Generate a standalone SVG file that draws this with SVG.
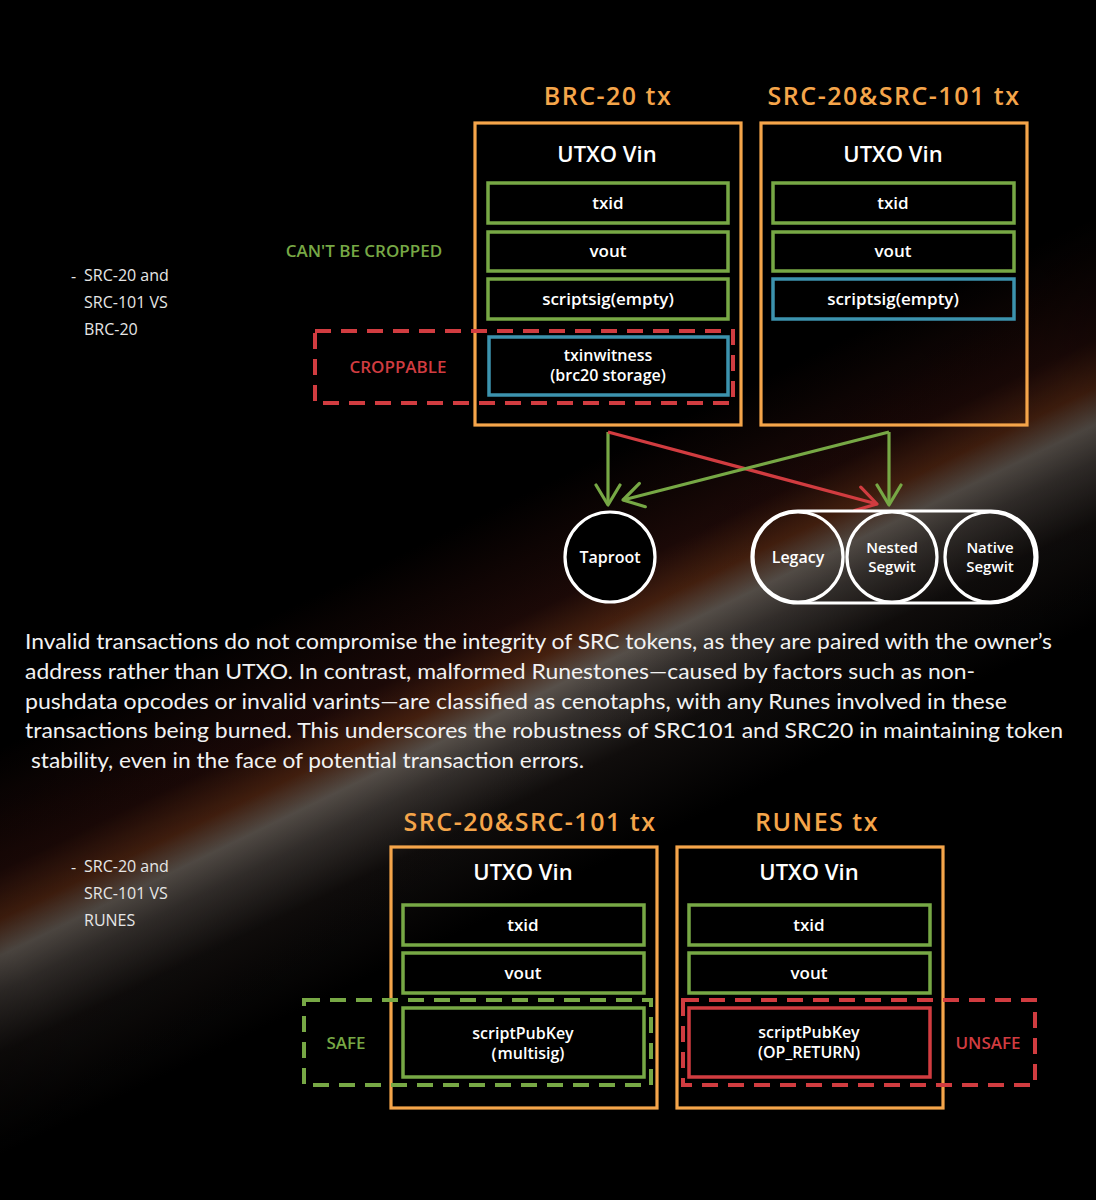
<svg xmlns="http://www.w3.org/2000/svg" width="1096" height="1200" viewBox="0 0 1096 1200">
<defs>
<linearGradient id="streak" gradientUnits="userSpaceOnUse" x1="470" y1="520" x2="630" y2="850">
<stop offset="0" stop-color="#000"/>
<stop offset="0.3" stop-color="#1c0907"/>
<stop offset="0.42" stop-color="#45200f"/>
<stop offset="0.51" stop-color="#57504a"/>
<stop offset="0.6" stop-color="#35302d"/>
<stop offset="0.75" stop-color="#100d0c"/>
<stop offset="1" stop-color="#000"/>
</linearGradient>
<radialGradient id="fade" gradientUnits="userSpaceOnUse" cx="548" cy="685" r="800">
<stop offset="0" stop-color="#000" stop-opacity="0"/>
<stop offset="0.75" stop-color="#000" stop-opacity="0.15"/>
<stop offset="1" stop-color="#000" stop-opacity="0.6"/>
</radialGradient>
<marker id="ag" viewBox="0 0 26 28" refX="23" refY="14" markerWidth="26" markerHeight="28" markerUnits="userSpaceOnUse" orient="auto">
<path d="M3,2 L23,14 L3,26" fill="none" stroke="#77a845" stroke-width="3.2" stroke-linecap="round" stroke-linejoin="round"/>
</marker>
<marker id="ar" viewBox="0 0 26 28" refX="23" refY="14" markerWidth="26" markerHeight="28" markerUnits="userSpaceOnUse" orient="auto">
<path d="M3,2 L23,14 L3,26" fill="none" stroke="#d13c40" stroke-width="3.2" stroke-linecap="round" stroke-linejoin="round"/>
</marker>
</defs>
<style>
.tx{fill:none;stroke:#f5a54a;stroke-width:3.2}
.g{fill:none;stroke:#77a845;stroke-width:3.5}
.b{fill:none;stroke:#3c93ae;stroke-width:3.5}
.r{fill:none;stroke:#d13c40;stroke-width:3.5}
.dr{fill:none;stroke:#d13c40;stroke-width:4;stroke-dasharray:16 10}
.dg{fill:none;stroke:#77a845;stroke-width:4;stroke-dasharray:16 10}
.ttl{font-family:"Open Sans",Lato,sans-serif;font-weight:600;font-size:25px;letter-spacing:1.5px;fill:#f5a54a;text-anchor:middle}
.h{font-family:"Open Sans",Lato,sans-serif;font-weight:600;font-size:22px;fill:#fff;text-anchor:middle}
.f{font-family:"Open Sans",Lato,sans-serif;font-weight:600;font-size:17px;fill:#fff;text-anchor:middle}
.f2{font-family:"Open Sans",Lato,sans-serif;font-weight:600;font-size:16px;fill:#fff;text-anchor:middle}
.c{font-family:"Open Sans",Lato,sans-serif;font-weight:600;font-size:16px;fill:#fff;text-anchor:middle}
.c2{font-family:"Open Sans",Lato,sans-serif;font-weight:600;font-size:15px;fill:#fff;text-anchor:middle}
.lab{font-family:"Open Sans",Lato,sans-serif;font-weight:600;font-size:17px;text-anchor:middle}
.side{font-family:"Open Sans","Noto Sans",sans-serif;font-size:16px;fill:#e6e6e6}
.p{font-family:Lato,"Noto Sans",sans-serif;font-size:21px;fill:#f2f2f2}
.circ{stroke:#fff;stroke-width:3.2}
.conn{fill:none;stroke-width:3.2}
</style>
<rect x="0" y="0" width="1096" height="1200" fill="url(#streak)"/>
<rect x="0" y="0" width="1096" height="1200" fill="url(#fade)"/>

<g id="side-top">
<text class="side" x="71" y="282">-</text>
<text class="side" x="84" y="281">SRC-20 and</text>
<text class="side" x="84" y="308">SRC-101 VS</text>
<text class="side" x="84" y="335">BRC-20</text>
</g>

<g id="brc20-tx">
<text class="ttl" x="608" y="105">BRC-20 tx</text>
<rect class="tx" x="475" y="123" width="266" height="302" fill="#000"/>
<text class="h" x="607" y="162">UTXO Vin</text>
<rect class="g" x="488" y="183" width="240" height="40" fill="#000"/>
<text class="f" x="608" y="209">txid</text>
<rect class="g" x="488" y="232" width="240" height="39" fill="#000"/>
<text class="f" x="608" y="257">vout</text>
<rect class="g" x="488" y="279" width="240" height="40" fill="#000"/>
<text class="f" x="608" y="305">scriptsig(empty)</text>
<rect class="b" x="489" y="337" width="239" height="58" fill="#000"/>
<text class="f2" x="608" y="361">txinwitness</text>
<text class="f2" x="608" y="381">(brc20 storage)</text>
</g>

<g id="cant-crop">
<text class="lab" x="364" y="257" fill="#77a845">CAN'T BE CROPPED</text>
</g>

<g id="croppable">
<rect class="dr" x="315" y="331" width="418" height="72"/>
<text class="lab" x="398" y="373" fill="#d13c40">CROPPABLE</text>
</g>

<g id="src-tx-top">
<text class="ttl" x="894" y="105">SRC-20&amp;SRC-101 tx</text>
<rect class="tx" x="761" y="123" width="266" height="302" fill="#000"/>
<text class="h" x="893" y="162">UTXO Vin</text>
<rect class="g" x="773" y="183" width="241" height="40" fill="#000"/>
<text class="f" x="893" y="209">txid</text>
<rect class="g" x="773" y="232" width="241" height="39" fill="#000"/>
<text class="f" x="893" y="257">vout</text>
<rect class="b" x="773" y="279" width="241" height="40" fill="#000"/>
<text class="f" x="893" y="305">scriptsig(empty)</text>
</g>

<g id="connectors">
<line class="conn" x1="608" y1="432" x2="608" y2="505" stroke="#77a845" marker-end="url(#ag)"/>
<line class="conn" x1="608" y1="432" x2="877" y2="504" stroke="#d13c40" marker-end="url(#ar)"/>
<line class="conn" x1="889" y1="432" x2="889" y2="505" stroke="#77a845" marker-end="url(#ag)"/>
<line class="conn" x1="889" y1="432" x2="623" y2="500" stroke="#77a845" marker-end="url(#ag)"/>
</g>

<g id="taproot">
<circle class="circ" cx="610" cy="557" r="45" fill="#000"/>
<text class="c" x="610" y="563">Taproot</text>
</g>

<g id="address-group">
<rect class="circ" x="752" y="511" width="285" height="92" rx="46" fill="none"/>
</g>
<g id="legacy">
<circle class="circ" cx="798" cy="557" r="45" fill="none"/>
<text class="c" x="798" y="563">Legacy</text>
</g>
<g id="nested-segwit">
<circle class="circ" cx="892" cy="557" r="45" fill="none"/>
<text class="c2" x="892" y="553">Nested</text>
<text class="c2" x="892" y="572">Segwit</text>
</g>
<g id="native-segwit">
<circle class="circ" cx="990" cy="557" r="45" fill="none"/>
<text class="c2" x="990" y="553">Native</text>
<text class="c2" x="990" y="572">Segwit</text>
</g>

<g id="paragraph">
<text class="p" x="25" y="649" textLength="1027" lengthAdjust="spacingAndGlyphs">Invalid transactions do not compromise the integrity of SRC tokens, as they are paired with the owner’s</text>
<text class="p" x="25" y="679" textLength="950" lengthAdjust="spacingAndGlyphs">address rather than UTXO. In contrast, malformed Runestones—caused by factors such as non-</text>
<text class="p" x="25" y="709" textLength="982" lengthAdjust="spacingAndGlyphs">pushdata opcodes or invalid varints—are classified as cenotaphs, with any Runes involved in these</text>
<text class="p" x="25" y="738" textLength="1038" lengthAdjust="spacingAndGlyphs">transactions being burned. This underscores the robustness of SRC101 and SRC20 in maintaining token</text>
<text class="p" x="31" y="768" textLength="553" lengthAdjust="spacingAndGlyphs">stability, even in the face of potential transaction errors.</text>
</g>

<g id="side-bottom">
<text class="side" x="71" y="873">-</text>
<text class="side" x="84" y="872">SRC-20 and</text>
<text class="side" x="84" y="899">SRC-101 VS</text>
<text class="side" x="84" y="926">RUNES</text>
</g>

<g id="src-tx-bottom">
<text class="ttl" x="530" y="831">SRC-20&amp;SRC-101 tx</text>
<rect class="tx" x="391" y="847" width="266" height="261" fill="#000"/>
<text class="h" x="523" y="880">UTXO Vin</text>
<rect class="g" x="403" y="905" width="241" height="40" fill="#000"/>
<text class="f" x="523" y="931">txid</text>
<rect class="g" x="403" y="953" width="241" height="40" fill="#000"/>
<text class="f" x="523" y="979">vout</text>
<rect class="g" x="403" y="1008" width="241" height="69" fill="#000"/>
<text class="f2" x="523" y="1039">scriptPubKey</text>
<text class="f2" x="523" y="1059">（multisig)</text>
</g>

<g id="safe">
<rect class="dg" x="304" y="1000" width="347" height="85"/>
<text class="lab" x="346" y="1049" fill="#77a845">SAFE</text>
</g>

<g id="runes-tx">
<text class="ttl" x="817" y="831">RUNES tx</text>
<rect class="tx" x="677" y="847" width="266" height="261" fill="#000"/>
<text class="h" x="809" y="880">UTXO Vin</text>
<rect class="g" x="689" y="905" width="241" height="40" fill="#000"/>
<text class="f" x="809" y="931">txid</text>
<rect class="g" x="689" y="953" width="241" height="40" fill="#000"/>
<text class="f" x="809" y="979">vout</text>
<rect class="r" x="689" y="1008" width="241" height="69" fill="#000"/>
<text class="f2" x="809" y="1038">scriptPubKey</text>
<text class="f2" x="809" y="1058">(OP_RETURN)</text>
</g>

<g id="unsafe">
<rect class="dr" x="683" y="1000" width="352" height="85"/>
<text class="lab" x="988" y="1049" fill="#d13c40">UNSAFE</text>
</g>
</svg>
